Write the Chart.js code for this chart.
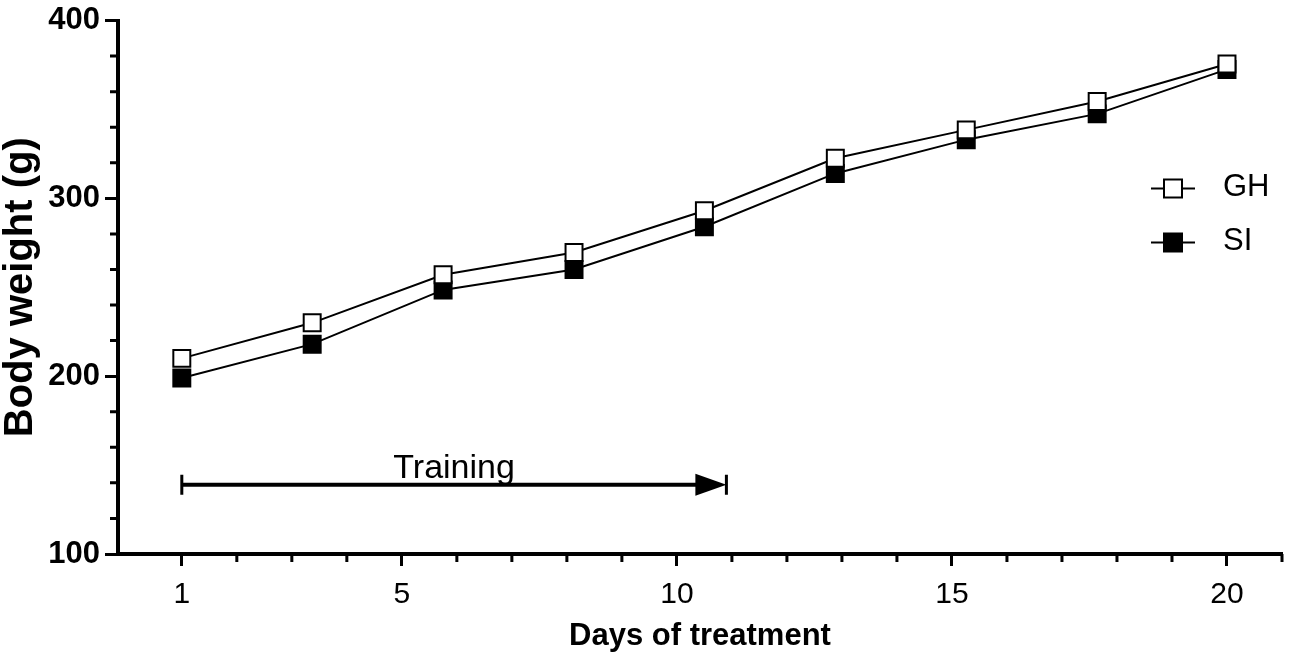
<!DOCTYPE html>
<html lang="en">
<head>
  <meta charset="UTF-8" />
  <title>Body weight</title>
  <script src="https://cdn.jsdelivr.net/npm/chart.js"></script>
  <style>
    body { margin: 0; background: #fff; }
    #wrap { width: 1300px; height: 658px; position: relative; }
  </style>
</head>
<body>
  <div id="wrap"><canvas id="weightChart"></canvas></div>

  <script>
    // values
    const days = [1, 3.37, 5.75, 8.13, 10.5, 12.88, 15.26, 17.64, 20];
    const ghWeight = [210, 230, 257, 269.5, 293, 322.5, 338.5, 354.5, 375.5];
    const siWeight = [199, 218, 248.5, 260, 284, 314, 333, 347.5, 372.5];

    const xMajorTicks = [1, 5, 10, 15, 20];
    const xMinorTicks = [2, 3, 4, 6, 7, 8, 9, 11, 12, 13, 14, 16, 17, 18, 19, 21];
    const yMajorTicks = [100, 200, 300, 400];
    const yMinorTicks = [120, 140, 160, 180, 220, 240, 260, 280, 320, 340, 360, 380];

    const trainingLabel = 'Training';
    const trainingDays = [1, 10.9];
    const trainingWeight = 139;

    const FONT = '"Liberation Sans", Arial, sans-serif';

    // short ticks between the labelled ones
    const minorTicks = {
      id: 'minorTicks',
      afterDraw(chart) {
        const ctx = chart.ctx;
        const x = chart.scales.x, y = chart.scales.y;
        const area = chart.chartArea;
        ctx.save();
        ctx.strokeStyle = '#000';
        ctx.lineWidth = 3;
        ctx.beginPath();
        xMinorTicks.forEach(v => {
          const px = x.getPixelForValue(v);
          ctx.moveTo(px, area.bottom);
          ctx.lineTo(px, area.bottom + 8);
        });
        yMinorTicks.forEach(v => {
          const py = y.getPixelForValue(v);
          ctx.moveTo(area.left, py);
          ctx.lineTo(area.left - 8, py);
        });
        ctx.stroke();
        ctx.restore();
      }
    };

    // the "Training" arrow
    const trainingArrow = {
      id: 'trainingArrow',
      afterDatasetsDraw(chart) {
        const ctx = chart.ctx;
        const x = chart.scales.x, y = chart.scales.y;
        const x1 = x.getPixelForValue(trainingDays[0]);
        const x2 = x.getPixelForValue(trainingDays[1]);
        const py = y.getPixelForValue(trainingWeight);
        ctx.save();
        ctx.strokeStyle = '#000';
        ctx.fillStyle = '#000';
        ctx.lineWidth = 4;
        ctx.beginPath();
        ctx.moveTo(x1, py);
        ctx.lineTo(x2 - 20, py);
        ctx.stroke();
        ctx.lineWidth = 3;
        ctx.beginPath();
        ctx.moveTo(x1, py - 10);
        ctx.lineTo(x1, py + 10);
        ctx.moveTo(x2, py - 10);
        ctx.lineTo(x2, py + 10);
        ctx.stroke();
        ctx.beginPath();
        ctx.moveTo(x2 - 31, py - 11);
        ctx.lineTo(x2, py);
        ctx.lineTo(x2 - 31, py + 11);
        ctx.closePath();
        ctx.fill();
        ctx.font = '34px ' + FONT;
        ctx.textAlign = 'center';
        ctx.textBaseline = 'alphabetic';
        ctx.fillText(trainingLabel, (x1 + x2) / 2, py - 7);
        ctx.restore();
      }
    };

    // legend: short line with the marker in the middle, then the name
    const lineLegend = {
      id: 'lineLegend',
      afterDraw(chart) {
        const ctx = chart.ctx;
        const area = chart.chartArea;
        const lx = area.right - 109;
        ctx.save();
        chart.data.datasets.forEach((ds, i) => {
          const ly = area.top + 168 + i * 54;
          ctx.strokeStyle = '#000';
          ctx.lineWidth = 2;
          ctx.beginPath();
          ctx.moveTo(lx - 22, ly);
          ctx.lineTo(lx + 22, ly);
          ctx.stroke();
          ctx.fillStyle = ds.pointBackgroundColor;
          ctx.fillRect(lx - 9, ly - 9, 18, 18);
          ctx.strokeRect(lx - 9, ly - 9, 18, 18);
          ctx.fillStyle = '#000';
          ctx.font = '31px ' + FONT;
          ctx.textAlign = 'left';
          ctx.textBaseline = 'middle';
          ctx.fillText(ds.label, lx + 50, ly - 1);
        });
        ctx.restore();
      }
    };

    new Chart(document.getElementById('weightChart'), {
      type: 'line',
      data: {
        datasets: [
          {
            label: 'GH',
            data: days.map((d, i) => ({ x: d, y: ghWeight[i] })),
            borderColor: '#000',
            borderWidth: 2,
            pointStyle: 'rect',
            pointRadius: 12,
            pointBorderWidth: 2,
            pointBorderColor: '#000',
            pointBackgroundColor: '#fff'
          },
          {
            label: 'SI',
            data: days.map((d, i) => ({ x: d, y: siWeight[i] })),
            borderColor: '#000',
            borderWidth: 2,
            pointStyle: 'rect',
            pointRadius: 12,
            pointBorderWidth: 2,
            pointBorderColor: '#000',
            pointBackgroundColor: '#000'
          }
        ]
      },
      options: {
        responsive: true,
        maintainAspectRatio: false,
        animation: false,
        devicePixelRatio: 1,
        layout: { padding: { top: 18, right: 18, left: 0, bottom: 0 } },
        plugins: {
          legend: { display: false },
          tooltip: { enabled: false }
        },
        scales: {
          x: {
            type: 'linear',
            min: -0.16,
            max: 21,
            afterBuildTicks: s => { s.ticks = xMajorTicks.map(v => ({ value: v })); },
            afterFit: s => { s.height = 104; },
            border: { display: true, color: '#000', width: 4 },
            grid: { drawOnChartArea: false, tickLength: 12, tickWidth: 3, tickColor: '#000' },
            ticks: { color: '#000', padding: 11, font: { family: FONT, size: 30 }, maxRotation: 0 },
            title: {
              display: true,
              text: 'Days of treatment',
              color: '#000',
              font: { family: FONT, size: 31, weight: 'bold', lineHeight: 1 },
              padding: { top: 0, bottom: 6 }
            }
          },
          y: {
            min: 100,
            max: 400,
            afterBuildTicks: s => { s.ticks = yMajorTicks.map(v => ({ value: v })); },
            afterFit: s => { s.width = 118; },
            border: { display: true, color: '#000', width: 4 },
            grid: { drawOnChartArea: false, tickLength: 13, tickWidth: 3, tickColor: '#000' },
            ticks: { color: '#000', padding: 5, font: { family: FONT, size: 31, weight: 'bold', lineHeight: 1 } },
            title: {
              display: true,
              text: 'Body weight (g)',
              color: '#000',
              font: { family: FONT, size: 40, weight: 'bold', lineHeight: 1 },
              padding: { top: 1, bottom: 0 }
            }
          }
        }
      },
      plugins: [minorTicks, trainingArrow, lineLegend]
    });
  </script>
</body>
</html>
